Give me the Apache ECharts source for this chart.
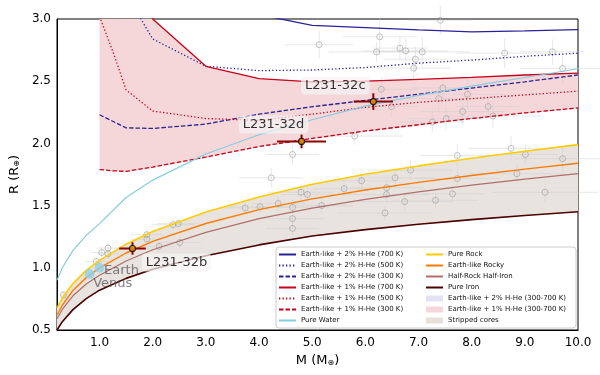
<!DOCTYPE html>
<html>
<head>
<meta charset="utf-8">
<script src="https://cdn.jsdelivr.net/npm/echarts@6/dist/echarts.min.js"></script>
<style>
  html, body { margin: 0; padding: 0; background: #fff; }
  #chart { width: 600px; height: 375px; }
</style>
</head>
<body>
<div id="chart"></div>
<script>
// interior models (M in Earth masses, R in Earth radii)
var massCore = [0.2, 0.3, 0.5, 0.75, 1, 1.5, 2, 3, 4, 5, 6, 7, 8, 9, 10];
var pureRock = [0.675, 0.757, 0.873, 0.979, 1.06, 1.19, 1.292, 1.449, 1.569, 1.671, 1.752, 1.819, 1.881, 1.937, 1.99];
var earthLike = [0.62, 0.699, 0.818, 0.921, 1.0, 1.119, 1.212, 1.356, 1.468, 1.554, 1.625, 1.687, 1.742, 1.793, 1.84];
var halfIron = [0.59, 0.665, 0.775, 0.87, 0.94, 1.055, 1.145, 1.285, 1.395, 1.48, 1.55, 1.61, 1.665, 1.713, 1.757];
var pureIron = [0.50, 0.567, 0.664, 0.752, 0.82, 0.915, 0.989, 1.097, 1.184, 1.255, 1.307, 1.35, 1.387, 1.421, 1.45];
var pureWater = [0.90, 1.0, 1.14, 1.26, 1.355, 1.565, 1.705, 1.915, 2.07, 2.19, 2.30, 2.385, 2.46, 2.53, 2.60];

// Earth-like + 1% H-He
var massH1 = [1, 1.25, 1.5, 2, 3, 4, 5, 6, 7, 8, 9, 10];
var h1_700 = [4.0, 3.7, 3.4, 3.0, 2.62, 2.52, 2.495, 2.50, 2.515, 2.53, 2.55, 2.565];
var h1_500 = [3.02, 2.74, 2.43, 2.26, 2.20, 2.185, 2.235, 2.29, 2.33, 2.36, 2.39, 2.42];
var h1_300 = [1.79, 1.78, 1.775, 1.81, 1.89, 1.975, 2.04, 2.10, 2.15, 2.20, 2.245, 2.285];

// Earth-like + 2% H-He
var massH2 = [1, 1.5, 2, 3, 4, 5, 6, 7, 8, 9, 10];
var h2_700 = [4.5, 4.2, 3.9, 3.45, 3.035, 2.948, 2.93, 2.912, 2.897, 2.905, 2.915];
var h2_500 = [3.9, 3.2, 2.84, 2.62, 2.585, 2.59, 2.61, 2.645, 2.67, 2.70, 2.725];
var h2_300 = [2.23, 2.125, 2.12, 2.155, 2.235, 2.295, 2.345, 2.395, 2.445, 2.495, 2.55];

// known small planets: [M, R, dM, dR]
var knownPlanets = [
  [7.41, 2.99, 0.6, 0.12], [6.27, 2.857, 0.7, 0.15], [5.13, 2.793, 0.65, 0.11], [6.21, 2.736, 0.9, 0.08],
  [6.65, 2.766, 0.5, 0.1], [6.76, 2.744, 0.8, 0.1], [7.07, 2.736, 0.9, 0.12], [6.94, 2.677, 0.6, 0.1],
  [6.91, 2.605, 0.7, 0.09], [8.62, 2.726, 0.9, 0.12], [9.52, 2.736, 0.6, 0.1], [9.71, 2.602, 0.8, 0.12],
  [6.30, 2.435, 0.7, 0.1], [7.46, 2.446, 0.6, 0.1], [7.38, 2.36, 0.9, 0.1], [7.92, 2.395, 0.7, 0.12],
  [6.49, 2.296, 0.5, 0.09], [7.83, 2.256, 0.8, 0.1], [8.31, 2.296, 0.6, 0.08], [8.40, 2.22, 0.9, 0.1],
  [7.52, 2.199, 0.7, 0.09], [7.26, 2.172, 0.6, 0.08], [5.80, 2.059, 0.9, 0.07], [8.74, 1.96, 0.8, 0.1],
  [9.01, 1.911, 0.6, 0.08], [7.73, 1.903, 0.7, 0.09], [9.71, 1.877, 0.9, 0.1], [6.85, 1.785, 0.8, 0.08],
  [5.93, 1.70, 0.6, 0.07], [6.56, 1.723, 0.7, 0.08], [7.73, 1.718, 0.8, 0.07], [8.85, 1.756, 0.9, 0.08],
  [5.60, 1.635, 0.6, 0.06], [4.91, 1.589, 0.5, 0.06], [6.40, 1.643, 0.7, 0.07], [4.79, 1.607, 0.6, 0.07],
  [4.63, 1.911, 0.5, 0.08], [4.23, 1.723, 0.6, 0.08], [6.40, 1.589, 0.8, 0.07], [4.36, 1.516, 0.5, 0.06],
  [4.63, 1.486, 0.7, 0.06], [5.18, 1.50, 0.6, 0.06], [6.74, 1.532, 0.9, 0.07], [7.32, 1.543, 0.8, 0.06],
  [7.64, 1.594, 0.6, 0.07], [9.38, 1.607, 1.0, 0.08], [4.63, 1.395, 0.6, 0.06], [4.63, 1.317, 0.5, 0.06],
  [6.37, 1.441, 0.9, 0.06], [3.74, 1.481, 0.5, 0.05], [4.02, 1.49, 0.6, 0.05], [2.38, 1.347, 0.4, 0.05],
  [2.48, 1.355, 0.4, 0.04], [1.89, 1.266, 0.3, 0.05], [1.89, 1.231, 0.3, 0.04], [2.51, 1.204, 0.4, 0.05],
  [2.12, 1.172, 0.3, 0.04], [1.04, 1.123, 0.2, 0.04], [1.16, 1.159, 0.2, 0.04], [1.16, 1.113, 0.2, 0.04],
  [0.94, 1.051, 0.2, 0.03], [0.32, 0.782, 0.05, 0.03]
];

// L 231-32 planets
var targetNames = ['L231-32b', 'L231-32c', 'L231-32d'];
var targetMass = [1.62, 6.15, 4.80];
var targetMassErr = [0.25, 0.37, 0.46];
var targetRadius = [1.155, 2.336, 2.016];
var targetRadiusErr = [0.05, 0.067, 0.055];

var solarNames = ['Earth', 'Venus'];
var solarMass = [1.0, 0.815];
var solarRadius = [1.0, 0.95];

var xTicks = [1, 2, 3, 4, 5, 6, 7, 8, 9, 10];

// label placement (px offsets from marker)
var targetLabelOffset = [[44, 14], [-38, -16], [-28, -17]];
var solarLabelOffset = [[22, 3], [23, 10]];

var FONT = 'DejaVu Sans';
var C_H2 = '#2a2298';
var C_H1 = '#c8001a';

function pairs(xs, ys) {
  return xs.map(function (x, i) { return [x, ys[i]]; });
}

function band(xs, lower, upper, color) {
  return function (params, api) {
    var pts = [];
    for (var i = 0; i < xs.length; i++) pts.push(api.coord([xs[i], upper[i]]));
    for (var j = xs.length - 1; j >= 0; j--) pts.push(api.coord([xs[j], lower[j]]));
    var cs = params.coordSys;
    return {
      type: 'group',
      clipPath: { type: 'rect', shape: { x: cs.x, y: cs.y, width: cs.width, height: cs.height } },
      children: [{ type: 'polygon', shape: { points: pts }, style: { fill: color } }]
    };
  };
}

function errorBars(color, width) {
  return function (params, api) {
    var m = api.value(0), r = api.value(1), dm = api.value(2), dr = api.value(3);
    var a = api.coord([m - dm, r]), b = api.coord([m + dm, r]);
    var c = api.coord([m, r + dr]), d = api.coord([m, r - dr]);
    var st = { stroke: color, lineWidth: width };
    return {
      type: 'group',
      children: [
        { type: 'line', shape: { x1: a[0], y1: a[1], x2: b[0], y2: b[1] }, style: st },
        { type: 'line', shape: { x1: c[0], y1: c[1], x2: d[0], y2: d[1] }, style: st }
      ]
    };
  };
}

function model(name, xs, ys, color, type, width) {
  return {
    name: name, type: 'line', data: pairs(xs, ys), symbol: 'none', z: 4,
    lineStyle: { color: color, type: type, width: width || 1.3 },
    itemStyle: { color: color }, silent: true
  };
}

var DASH = [4.5, 2];
var DOT = [1.3, 2.2];

var chart = echarts.init(document.getElementById('chart'));
chart.setOption({
  animation: false,
  textStyle: { fontFamily: FONT },
  grid: { left: 57, right: 22, top: 19, bottom: 45, show: true, borderColor: '#000', borderWidth: 1, backgroundColor: 'transparent' },
  xAxis: {
    type: 'value', min: 0.2, max: 10,
    name: '{a|M (M}{b|⊕}{a|)}', nameLocation: 'middle', nameGap: 22,
    nameTextStyle: { rich: { a: { fontSize: 13, color: '#000', fontFamily: FONT }, b: { fontSize: 8, color: '#000', fontFamily: FONT, verticalAlign: 'bottom', padding: [4, 0, 0, 0] } } },
    axisLine: { show: true, lineStyle: { color: '#000', width: 1 } },
    axisTick: { show: false },
    splitLine: { show: false },
    axisLabel: {
      customValues: xTicks, color: '#000', fontSize: 12, margin: 7, fontFamily: FONT,
      formatter: function (v) { return v.toFixed(1); }
    }
  },
  yAxis: {
    type: 'value', min: 0.5, max: 3.0, interval: 0.5,
    name: '{a|R (R}{b|⊕}{a|)}', nameLocation: 'middle', nameGap: 31, nameRotate: 90,
    nameTextStyle: { rich: { a: { fontSize: 13, color: '#000', fontFamily: FONT }, b: { fontSize: 8, color: '#000', fontFamily: FONT, verticalAlign: 'bottom', padding: [4, 0, 0, 0] } } },
    axisLine: { show: true, lineStyle: { color: '#000', width: 1 } },
    axisTick: { show: false },
    splitLine: { show: false },
    axisLabel: {
      color: '#000', fontSize: 12, margin: 6, fontFamily: FONT,
      formatter: function (v) { return v.toFixed(1); }
    }
  },
  legend: {
    orient: 'vertical', left: 276, top: 247, height: 77,
    padding: [3, 6, 3, 2], itemGap: 2, itemWidth: 17, itemHeight: 6,
    backgroundColor: 'rgba(255,255,255,0.85)', borderColor: '#cccccc', borderWidth: 1, borderRadius: 3,
    itemStyle: { opacity: 0 },
    textStyle: { fontSize: 7, color: '#111', fontFamily: FONT, lineHeight: 9, width: 122 },
    data: [
      'Earth-like + 2% H-He (700 K)', 'Earth-like + 2% H-He (500 K)', 'Earth-like + 2% H-He (300 K)',
      'Earth-like + 1% H-He (700 K)', 'Earth-like + 1% H-He (500 K)', 'Earth-like + 1% H-He (300 K)',
      'Pure Water', 'Pure Rock', 'Earth-like Rocky', 'Half-Rock Half-Iron', 'Pure Iron',
      { name: 'Earth-like + 2% H-He (300-700 K)', icon: 'rect', itemStyle: { color: '#e2e2f2', opacity: 1 } },
      { name: 'Earth-like + 1% H-He (300-700 K)', icon: 'rect', itemStyle: { color: '#f5d6da', opacity: 1 } },
      { name: 'Stripped cores', icon: 'rect', itemStyle: { color: '#e6e1dc', opacity: 1 } }
    ]
  },
  series: [
    { name: 'Stripped cores', type: 'custom', z: 1, silent: true, data: [[massCore[0], pureIron[0]]],
      renderItem: band(massCore, pureIron, pureRock, '#e8e3de') },
    { name: 'Earth-like + 2% H-He (300-700 K)', type: 'custom', z: 1, silent: true, data: [],
      renderItem: band(massH2, h2_300, h2_700, '#ffffff') },
    { name: 'Earth-like + 1% H-He (300-700 K)', type: 'custom', z: 1, silent: true, data: [[massH1[0], h1_300[0]]],
      renderItem: band(massH1, h1_300, h1_700, '#f5d7da') },
    { name: 'known', type: 'custom', z: 2, silent: true, data: knownPlanets,
      renderItem: errorBars('rgba(205,205,205,0.45)', 1) },
    { name: 'known pts', type: 'scatter', z: 3, silent: true, data: knownPlanets.map(function (p) { return [p[0], p[1]]; }),
      symbol: 'circle', symbolSize: 6,
      itemStyle: { color: 'rgba(255,255,255,0)', borderColor: 'rgba(150,150,150,0.7)', borderWidth: 1 } },
    model('Earth-like + 2% H-He (700 K)', massH2, h2_700, C_H2, 'solid'),
    model('Earth-like + 2% H-He (500 K)', massH2, h2_500, C_H2, DOT),
    model('Earth-like + 2% H-He (300 K)', massH2, h2_300, C_H2, DASH),
    model('Earth-like + 1% H-He (700 K)', massH1, h1_700, C_H1, 'solid'),
    model('Earth-like + 1% H-He (500 K)', massH1, h1_500, C_H1, DOT),
    model('Earth-like + 1% H-He (300 K)', massH1, h1_300, C_H1, DASH),
    model('Pure Water', massCore, pureWater, '#86cbe0', 'solid', 1.2),
    model('Pure Rock', massCore, pureRock, '#ffcc00', 'solid', 1.6),
    model('Earth-like Rocky', massCore, earthLike, '#ff7b00', 'solid', 1.4),
    model('Half-Rock Half-Iron', massCore, halfIron, '#b06e6e', 'solid', 1.2),
    model('Pure Iron', massCore, pureIron, '#4a0000', 'solid', 1.6),
    { name: 'solar', type: 'scatter', z: 5, silent: true, symbolSize: 10,
      itemStyle: { color: '#8fcfe6' },
      data: solarNames.map(function (n, i) {
        return { name: n, value: [solarMass[i], solarRadius[i]],
          label: { show: true, position: 'inside', offset: solarLabelOffset[i], formatter: n,
            color: 'rgba(70,70,70,0.85)', fontSize: 13, fontFamily: FONT } };
      }) },
    { name: 'target err', type: 'custom', z: 6, silent: true,
      data: targetNames.map(function (n, i) { return [targetMass[i], targetRadius[i], targetMassErr[i], targetRadiusErr[i]]; }),
      renderItem: errorBars('#8b0000', 2) },
    { name: 'targets', type: 'scatter', z: 7, silent: true, symbolSize: 6,
      itemStyle: { color: '#f2a000', borderColor: '#000', borderWidth: 1.2 },
      data: targetNames.map(function (n, i) {
        return { name: n, value: [targetMass[i], targetRadius[i]],
          label: { show: true, position: 'inside', offset: targetLabelOffset[i], formatter: n,
            color: '#000', fontSize: 13, fontFamily: FONT,
            backgroundColor: 'rgba(247,244,244,0.88)', borderRadius: 4, padding: [3, 4, 2, 4] } };
      }) }
  ]
});
</script>
</body>
</html>
